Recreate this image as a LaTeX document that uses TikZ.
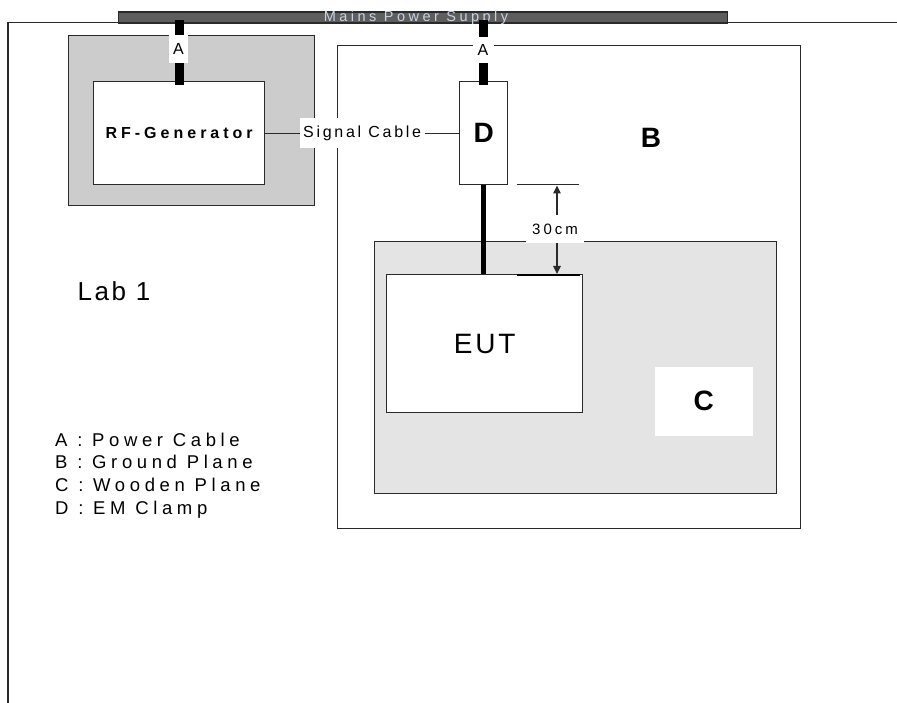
\documentclass[tikz,border=0pt]{standalone}
\usepackage{fontspec}
\setmainfont{Liberation Sans}
\usetikzlibrary{arrows.meta,calc}
\definecolor{mainsgray}{HTML}{5E5E5E}
\definecolor{rfgray}{HTML}{CCCCCC}
\definecolor{woodgray}{HTML}{E4E4E4}
\definecolor{mainstext}{HTML}{C8D2E4}
\definecolor{edgec}{HTML}{2A2A2A}
\newcommand\fsz[2]{\fontsize{#1}{#1}\selectfont\addfontfeatures{LetterSpace=#2}}
\begin{document}
\begin{tikzpicture}[x=1pt,y=-1pt,
  plane/.style={draw=edgec,line width=1.3pt,rectangle,inner sep=0pt,anchor=north west},
  cable/.style={line width=9pt,black},
  tag/.style={fill=white,inner sep=0pt},
  thinline/.style={draw=edgec,line width=1.2pt},
  dimtip/.style={{Triangle[length=8pt,width=7.5pt]}-{Triangle[length=8pt,width=7.5pt]}},
  legend/.style={anchor=base west,inner sep=0pt,font=\fsz{18.5}{25}}]
\useasboundingbox (0,0) rectangle (897,703);
\fill[white] (0,0) rectangle (897,703);
% lab walls
\draw[edgec,line width=1.3pt] (897,22.5) -| (8,703);
% mains supply
\node[plane,fill=mainsgray,minimum width=609pt,minimum height=11pt] (mains) at (118,11.5) {};
\node[anchor=base,inner sep=0pt,text=mainstext,font=\fsz{14.5}{24}] (mainslbl) at (416,21.5) {Mains Power Supply};
% RF generator zone
\node[plane,fill=rfgray,minimum width=246pt,minimum height=170pt] (rfzone) at (68,35) {};
\node[plane,fill=white,minimum width=171pt,minimum height=103pt,font=\bfseries\fsz{16}{25}] (rfgen) at (93,81) {RF-Generator};
% ground plane
\node[plane,fill=white,minimum width=463pt,minimum height=483pt] (gp) at (337,45) {};
\node[inner sep=0pt,font=\bfseries\fsz{28}{0}] (blbl) at (651,138) {B};
% wooden plane
\node[plane,fill=woodgray,minimum width=402pt,minimum height=252pt] (wood) at (374,241) {};
\node[plane,fill=white,minimum width=196pt,minimum height=138pt,font=\fsz{28}{10}] (eut) at (386,274) {EUT};
\node[plane,draw=none,fill=white,minimum width=98pt,minimum height=69pt,font=\bfseries\fsz{28}{0}] (cbox) at (654,366) {C};
% clamp
\node[plane,fill=white,minimum width=48pt,minimum height=103pt,font=\bfseries\fsz{28}{0}] (clamp) at (459,81) {D};
% power cables
\draw[cable] ($(rfgen.north |- mains.south)+(0,-4)$) -- ($(rfgen.north)+(0,4)$);
\node[tag,minimum width=19pt,minimum height=28pt,font=\fsz{16}{0}] (a1) at (178.5,49) {A};
\draw[cable] ($(clamp.north |- mains.south)+(0,-4)$) -- ($(clamp.north)+(0,4)$);
\node[tag,minimum width=21pt,minimum height=26pt,font=\fsz{16}{0}] (a2) at (483,50) {A};
% signal cable
\draw[thinline] (rfgen.east) -- (clamp.west);
\node[tag,minimum width=125pt,minimum height=30pt,font=\fsz{16}{17}] (sig) at ($(rfgen.east)!0.5!(clamp.west)$) {Signal Cable};
% EUT cable
\draw[line width=5pt] (clamp.south) -- (clamp.south |- eut.north);
% dimension 30cm
\coordinate (dt1) at (517,184.5);
\coordinate (dt2) at (579,184.5);
\coordinate (db1) at (517,275);
\coordinate (db2) at (580,275);
\coordinate (dm1) at (557,185.5);
\coordinate (dm2) at (557,274);
\draw[thinline] (dt1) -- (dt2);
\draw[black,line width=2.6pt] (db1) -- (db2);
\draw[thinline,dimtip] (dm1) -- (dm2);
\node[tag,minimum width=58pt,minimum height=28pt,font=\fsz{15}{20}] (dim) at (555,229) {30cm};
% lab label and legend
\node[inner sep=0pt,font=\fsz{26}{10}] (lab) at (114,291) {Lab 1};
\node[legend] (l1) at (55,446) {A : Power Cable};
\node[legend] (l2) at (55,468.7) {B : Ground Plane};
\node[legend] (l3) at (55,491.3) {C : Wooden Plane};
\node[legend] (l4) at (55,514) {D : EM Clamp};
\end{tikzpicture}
\end{document}
